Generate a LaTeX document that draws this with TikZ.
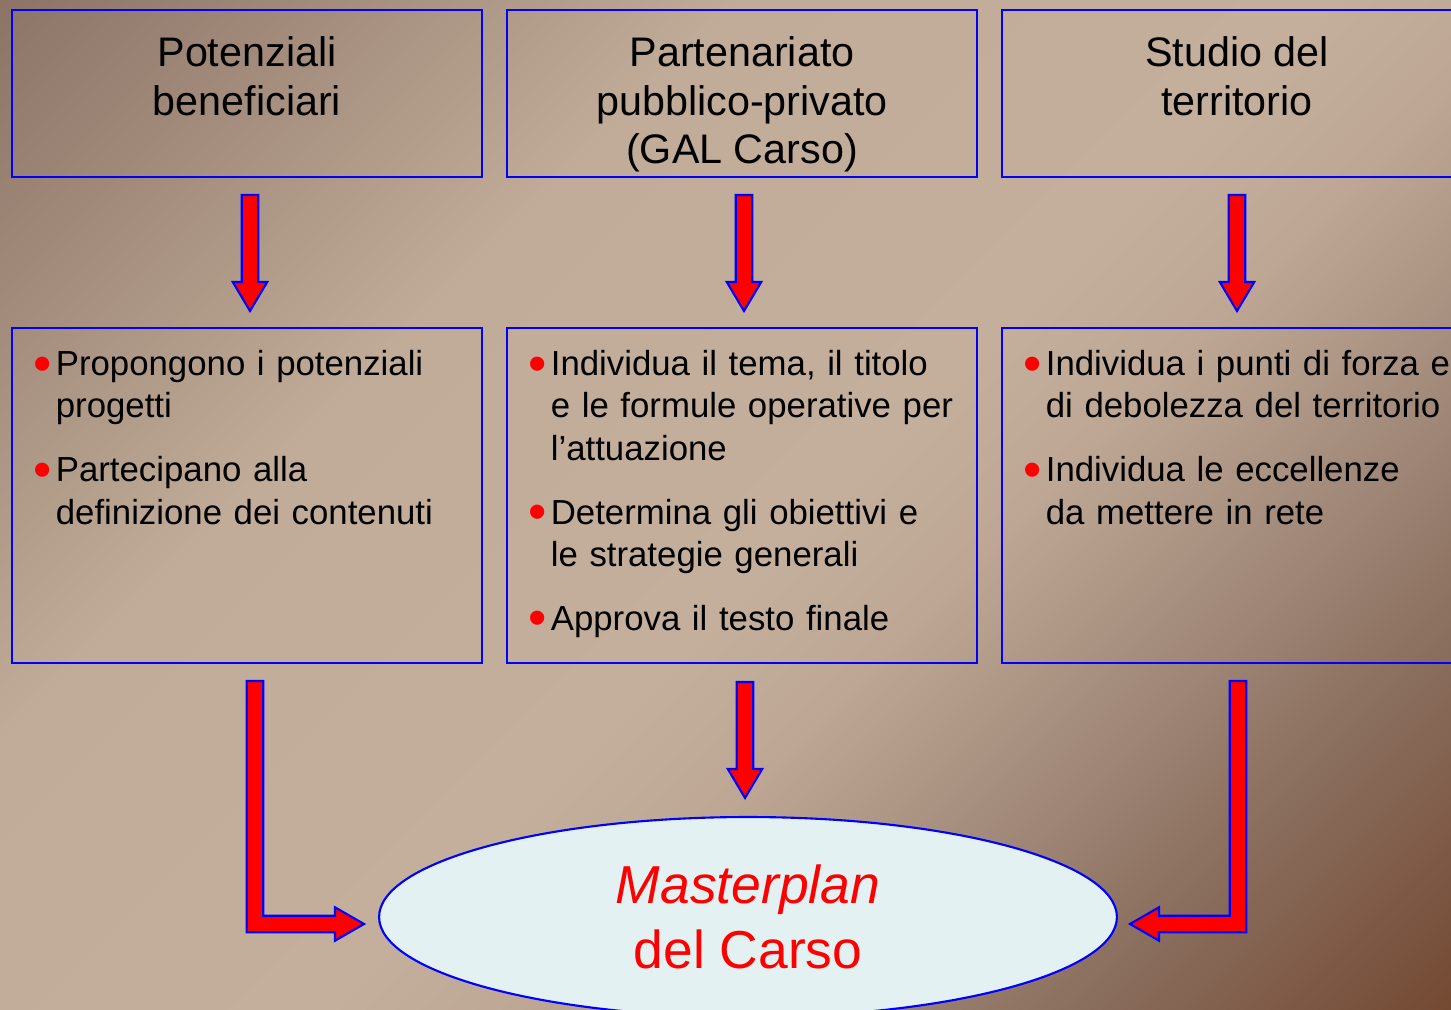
\documentclass[tikz,border=0pt]{standalone}
\usepackage{fontspec}
\setmainfont{Liberation Sans}
\usetikzlibrary{positioning,calc,shapes.geometric}
\definecolor{BoxBlue}{HTML}{0000FF}
\definecolor{ArrowRed}{HTML}{FF0000}
\definecolor{PlanFill}{HTML}{E3F1F3}
\definecolor{BgA}{HTML}{8C7566}
\definecolor{BgB}{HTML}{A38C7C}
\definecolor{BgC}{HTML}{C0AC98}
\definecolor{BgD}{HTML}{C3AF9C}
\definecolor{BgE}{HTML}{BEA895}
\definecolor{BgF}{HTML}{A38B7B}
\definecolor{BgG}{HTML}{8A6E5E}
\definecolor{BgH}{HTML}{744A33}
\pgfdeclarehorizontalshading{karstbg}{100bp}{color(0bp)=(BgA); color(14.6bp)=(BgA);
  color(24bp)=(BgB); color(36bp)=(BgC); color(53bp)=(BgD); color(58.5bp)=(BgE);
  color(67bp)=(BgF); color(74.7bp)=(BgG); color(85.4bp)=(BgH); color(100bp)=(BgH)}

% one bullet point, with the following lines hanging
\newcommand{\pitem}[1]{\hangindent=0.45cm\hangafter=1\noindent
  \makebox[0.45cm][l]{\textcolor{ArrowRed}{\raisebox{-3.3pt}{\scalebox{1.5}{\textbullet}}}}#1\par}
% block arrows: #1 start of the shaft, #2 tip
\newcommand{\downblock}[2]{%
  \path[blockarrow] let \p1=(#1), \p2=(#2) in
    (\x1-4.7pt,\y1) -- (\x1+4.7pt,\y1) -- (\x1+4.7pt,\y2+16.5pt) -- (\x1+9.8pt,\y2+16.5pt)
    -- (\x1,\y2) -- (\x1-9.8pt,\y2+16.5pt) -- (\x1-4.7pt,\y2+16.5pt) -- cycle;}
\newcommand{\rightL}[2]{%
  \path[blockarrow] let \p1=(#1), \p2=(#2) in
    (\x1-4.7pt,\y1) -- (\x1+4.7pt,\y1) -- (\x1+4.7pt,\y2+4.7pt) -- (\x2-16.5pt,\y2+4.7pt)
    -- (\x2-16.5pt,\y2+9.5pt) -- (\x2,\y2) -- (\x2-16.5pt,\y2-9.5pt) -- (\x2-16.5pt,\y2-4.7pt)
    -- (\x1-4.7pt,\y2-4.7pt) -- cycle;}
\newcommand{\leftL}[2]{%
  \path[blockarrow] let \p1=(#1), \p2=(#2) in
    (\x1+4.7pt,\y1) -- (\x1-4.7pt,\y1) -- (\x1-4.7pt,\y2+4.7pt) -- (\x2+16.5pt,\y2+4.7pt)
    -- (\x2+16.5pt,\y2+9.5pt) -- (\x2,\y2) -- (\x2+16.5pt,\y2-9.5pt) -- (\x2+16.5pt,\y2-4.7pt)
    -- (\x1+4.7pt,\y2-4.7pt) -- cycle;}

\begin{document}
\begin{tikzpicture}[x=0.02cm,y=-0.02cm,
    headbox/.style={draw=BoxBlue,line width=1.2pt,minimum width=9.4cm,minimum height=3.34cm},
    listbox/.style={draw=BoxBlue,line width=1.2pt,minimum width=9.4cm,minimum height=6.7cm},
    headtext/.style={align=center,inner sep=0pt,font=\fontsize{23.5}{27.8}\selectfont},
    listtext/.style={anchor=north west,text width=9.2cm,inner sep=0pt,
      font=\fontsize{19.8}{24.1}\selectfont,execute at begin node={\setlength{\parskip}{12.2pt}}},
    plan/.style={ellipse,draw=BoxBlue,line width=1.2pt,fill=PlanFill,minimum width=14.76cm,
      minimum height=4cm,inner sep=0pt,align=center,text=ArrowRed,font=\fontsize{30.4}{36.8}\selectfont},
    blockarrow/.style={fill=ArrowRed,draw=BoxBlue,line width=1.2pt}]
  \useasboundingbox (0,0) rectangle (1451,1010);
  \clip (0,0) rectangle (1451,1010);
  \shade[shading=karstbg,shading angle=-45] (0,0) rectangle (1451,1010);

  \node[headbox] (h1) at (247,93.5) {};
  \node[headbox,right=0.46cm of h1] (h2) {};
  \node[headbox,right=0.46cm of h2] (h3) {};
  \node[headtext,below=0.54cm of h1.north] (t1) {Potenziali\\beneficiari};
  \node[headtext,below=0.54cm of h2.north] (t2) {Partenariato\\pubblico-privato\\(GAL Carso)};
  \node[headtext,below=0.54cm of h3.north] (t3) {Studio del\\territorio};

  \node[listbox,below=2.98cm of h1] (d1) {};
  \node[listbox,below=2.98cm of h2] (d2) {};
  \node[listbox,below=2.98cm of h3] (d3) {};
  \node[listtext] (l1) at ($(d1.north west)+(22,23)$)
    {\pitem{Propongono i potenziali\newline progetti}
     \pitem{Partecipano alla\newline definizione dei contenuti}};
  \node[listtext] (l2) at ($(d2.north west)+(22,23)$)
    {\pitem{Individua il tema, il titolo\newline e le formule operative per\newline l’attuazione}
     \pitem{Determina gli obiettivi e\newline le strategie generali}
     \pitem{Approva il testo finale}};
  \node[listtext] (l3) at ($(d3.north west)+(22,23)$)
    {\pitem{Individua i punti di forza e\newline di debolezza del territorio}
     \pitem{Individua le eccellenze\newline da mettere in rete}};

  \node[plan] (m) at (748,917) {\textit{Masterplan}\\del Carso};

  \downblock{$(h1.south)+(3,17)$}{$(d1.north)+(0,-16)$}
  \downblock{$(h2.south)+(2,17)$}{$(d2.north)+(0,-16)$}
  \downblock{$(h3.south)+(0,17)$}{$(d3.north)+(0,-16)$}
  \downblock{$(d2.south)+(3,18)$}{$(m.north)+(0,-18)$}
  \rightL{$(d1.south)+(8,17)$}{$(m.west)+(-14,7)$}
  \leftL{$(d3.south)+(1,17)$}{$(m.east)+(12,7)$}
\end{tikzpicture}
\end{document}
